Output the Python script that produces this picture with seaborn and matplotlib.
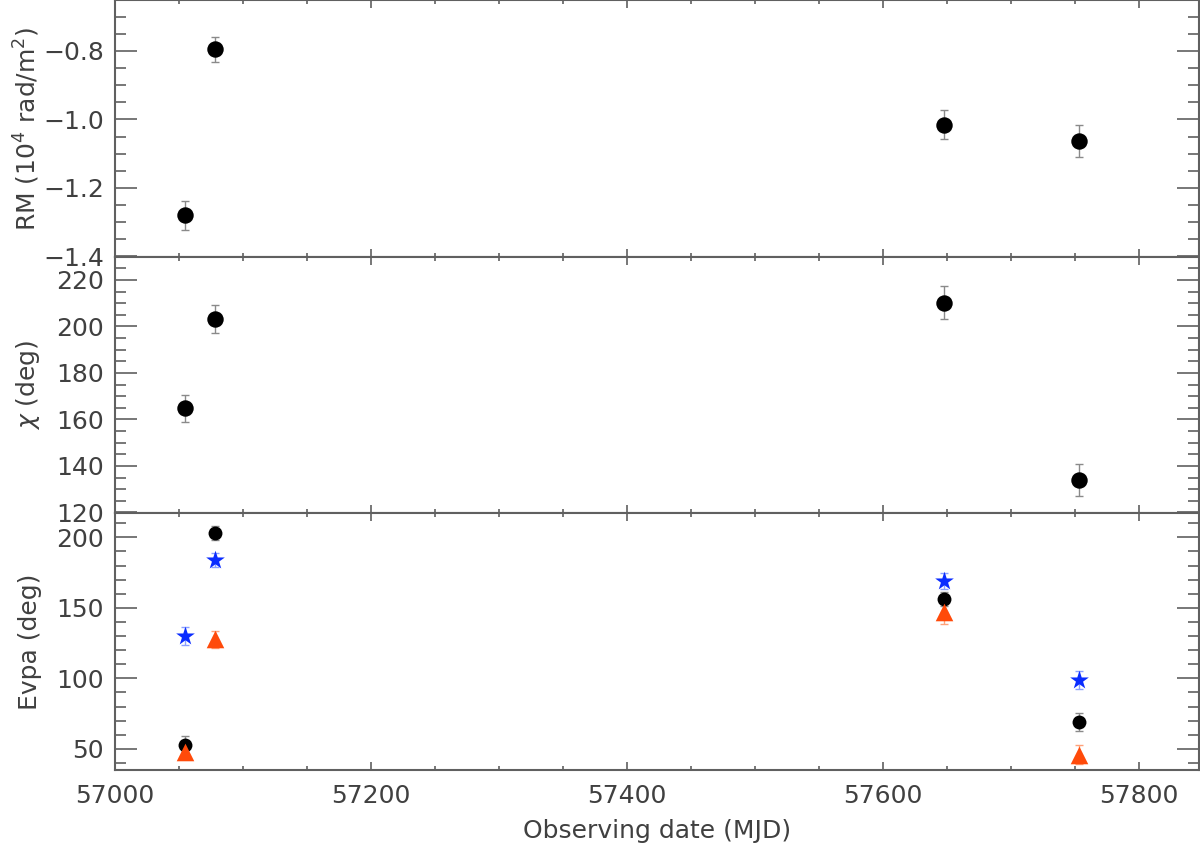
import matplotlib
matplotlib.use("Agg")
import matplotlib.pyplot as plt
from matplotlib.ticker import MultipleLocator
import seaborn as sns

# Observing epochs (MJD)
mjd = [57055, 57078, 57648, 57753]

# Rotation measure (10^4 rad/m^2)
rm = [-1.280, -0.795, -1.015, -1.063]
rm_err = [0.042, 0.037, 0.042, 0.047]

# Intrinsic EVPA chi (deg)
chi = [164.7, 203.3, 210.2, 133.9]
chi_err = [6.0, 6.0, 7.0, 7.0]

# Observed EVPA at three bands (deg)
evpa_black = [52.8, 202.8, 156.0, 69.0]
evpa_black_err = [6.0, 5.0, 5.0, 6.4]
evpa_star = [130.0, 183.7, 168.9, 98.8]
evpa_star_err = [6.7, 5.0, 5.7, 6.4]
evpa_tri = [48.0, 127.8, 147.0, 45.7]
evpa_tri_err = [5.0, 6.0, 8.5, 6.7]

sns.set_style("ticks")
plt.rcParams["font.family"] = ["DejaVu Sans"]
plt.rcParams["mathtext.fontset"] = "dejavusans"

text_col = "#404040"
axis_col = "#606060"

fig, axes = plt.subplots(3, 1, figsize=(12, 8.51), dpi=100, sharex=True)
fig.subplots_adjust(left=0.0958, right=0.999, top=1.0, bottom=0.0952, hspace=0)


def draw(ax, y, yerr, marker, color, ecolor, size):
    ax.errorbar(mjd, y, yerr=yerr, fmt="none", ecolor=ecolor, elinewidth=1.0,
                capsize=3, capthick=1.0, zorder=2)
    sns.scatterplot(x=mjd, y=y, ax=ax, marker=marker, color=color, s=size,
                    edgecolor=color, linewidth=0, zorder=3)


draw(axes[0], rm, rm_err, "o", "black", "#8a8a8a", 140)
draw(axes[1], chi, chi_err, "o", "black", "#8a8a8a", 140)
draw(axes[2], evpa_black, evpa_black_err, "o", "black", "#8a8a8a", 100)
draw(axes[2], evpa_star, evpa_star_err, "*", "#0a2cff", "#8aa0ff", 200)
draw(axes[2], evpa_tri, evpa_tri_err, "^", "#ff4a0a", "#ffa27a", 160)

axes[0].set_ylim(-1.401, -0.651)
axes[0].yaxis.set_major_locator(MultipleLocator(0.2))
axes[0].yaxis.set_minor_locator(MultipleLocator(0.05))
axes[0].set_ylabel(r"RM (10$^4$ rad/m$^2$)")

axes[1].set_ylim(119.6, 230)
axes[1].yaxis.set_major_locator(MultipleLocator(20))
axes[1].yaxis.set_minor_locator(MultipleLocator(5))
axes[1].set_ylabel(r"$\chi$ (deg)")

axes[2].set_ylim(35, 217)
axes[2].yaxis.set_major_locator(MultipleLocator(50))
axes[2].yaxis.set_minor_locator(MultipleLocator(10))
axes[2].set_ylabel("Evpa (deg)")

axes[2].set_xlim(57000, 57847)
axes[2].xaxis.set_major_locator(MultipleLocator(200))
axes[2].xaxis.set_minor_locator(MultipleLocator(50))
axes[2].set_xlabel("Observing date (MJD)", fontsize=18, color=text_col, labelpad=8)

for ax in axes:
    for sp in ax.spines.values():
        sp.set_color(axis_col)
        sp.set_linewidth(1.5)
    ax.tick_params(axis="both", which="both", direction="in", top=True, right=True,
                   colors=axis_col, labelcolor=text_col, labelsize=18, width=1.2)
    ax.tick_params(axis="y", which="major", length=16, pad=8)
    ax.tick_params(axis="y", which="minor", length=8)
    ax.tick_params(axis="x", which="major", length=6, pad=10)
    ax.tick_params(axis="x", which="minor", length=3)
    ax.yaxis.label.set_fontsize(18)
    ax.yaxis.label.set_color(text_col)
    ax.yaxis.set_label_coords(-0.067, 0.5)

plt.savefig("out.png", dpi=100)
plt.close()
